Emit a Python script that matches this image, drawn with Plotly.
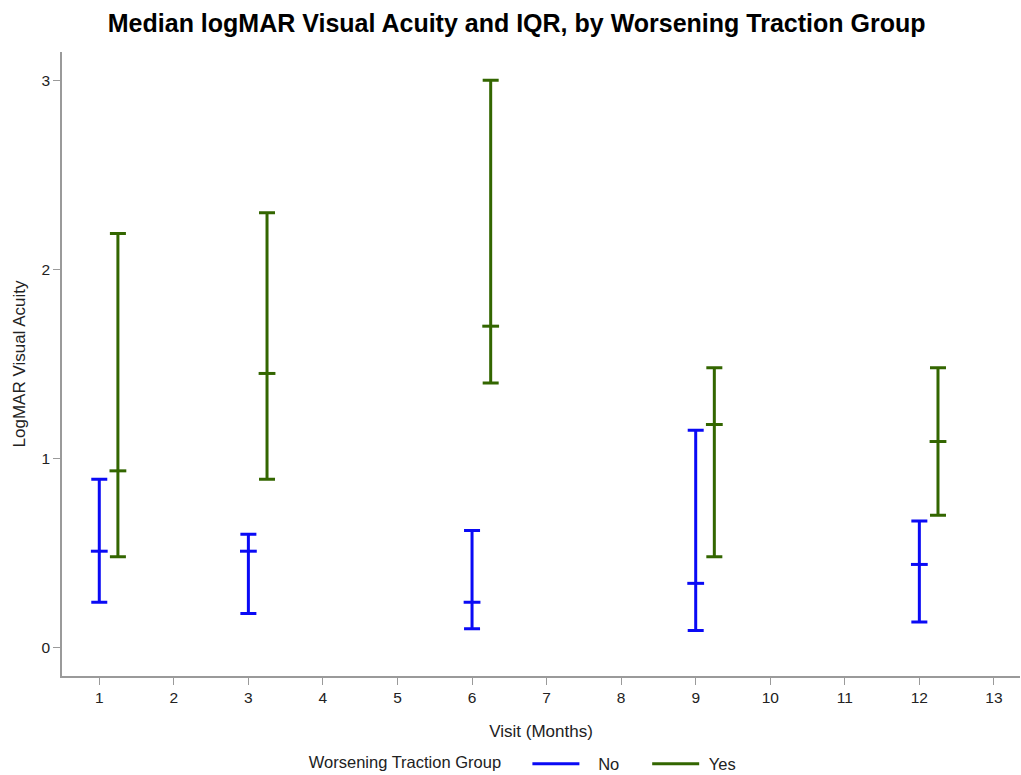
import plotly.graph_objects as go

visits = [1, 3, 6, 9, 12]
offset_yes = 0.25

no_median = [0.51, 0.51, 0.24, 0.34, 0.44]
no_q1 = [0.24, 0.18, 0.10, 0.09, 0.135]
no_q3 = [0.89, 0.60, 0.62, 1.15, 0.67]

yes_median = [0.935, 1.45, 1.70, 1.18, 1.09]
yes_q1 = [0.48, 0.89, 1.40, 0.48, 0.70]
yes_q3 = [2.19, 2.30, 3.00, 1.48, 1.48]

x_ticks = list(range(1, 14))

BLUE = "#0A0AF5"
GREEN = "#336600"
FONT = "Arial, Liberation Sans, sans-serif"
NB = "\u00a0"

fig = go.Figure()


def add_group(x, med, q1, q3, color, name, legend_label):
    fig.add_trace(go.Scatter(
        x=x, y=med, mode="markers", name=name, showlegend=False,
        marker=dict(symbol="line-ew", size=12, color=color,
                    line=dict(color=color, width=3)),
        error_y=dict(type="data", symmetric=False,
                     array=[h - m for h, m in zip(q3, med)],
                     arrayminus=[m - l for m, l in zip(med, q1)],
                     color=color, thickness=3, width=8),
    ))
    fig.add_trace(go.Scatter(
        x=[None], y=[None], mode="lines", name=legend_label,
        line=dict(color=color, width=3),
    ))


add_group(visits, no_median, no_q1, no_q3, BLUE, "No", NB * 3 + "No" + NB * 5)
add_group([v + offset_yes for v in visits], yes_median, yes_q1, yes_q3, GREEN, "Yes", NB * 1 + "Yes")

axis_common = dict(
    showline=True, linecolor="#9a9a9a", linewidth=1.5, mirror=False,
    ticks="outside", ticklen=7, tickcolor="#9a9a9a", tickwidth=1,
    showgrid=False, zeroline=False,
    tickfont=dict(family=FONT, size=15.5, color="#222"),
    title_font=dict(family=FONT, size=17, color="#222"),
)

fig.update_layout(
    width=1021, height=775,
    paper_bgcolor="white", plot_bgcolor="white",
    margin=dict(l=62, r=1, t=52, b=99, autoexpand=False),
    title=dict(text="<b>Median logMAR Visual Acuity and IQR, by Worsening Traction Group</b>",
               x=0.506, xanchor="center", y=0.97, yanchor="middle",
               font=dict(family=FONT, size=25, color="black")),
    xaxis=dict(range=[0.5, 13.35], tickvals=x_ticks, title=dict(text="Visit (Months)", standoff=20),
               **axis_common),
    yaxis=dict(range=[-0.15, 3.15], tickvals=[0, 1, 2, 3], title=dict(text="LogMAR Visual Acuity", standoff=12),
               **axis_common),
    legend=dict(orientation="h", xref="container", yref="paper", x=0.513, xanchor="center",
                y=-0.141, yanchor="middle",
                title=dict(text="Worsening Traction Group" + NB * 4, font=dict(family=FONT, size=16.5, color="#222")),
                font=dict(family=FONT, size=16.5, color="#222"), itemwidth=47),
)

fig.write_html("out.html")
